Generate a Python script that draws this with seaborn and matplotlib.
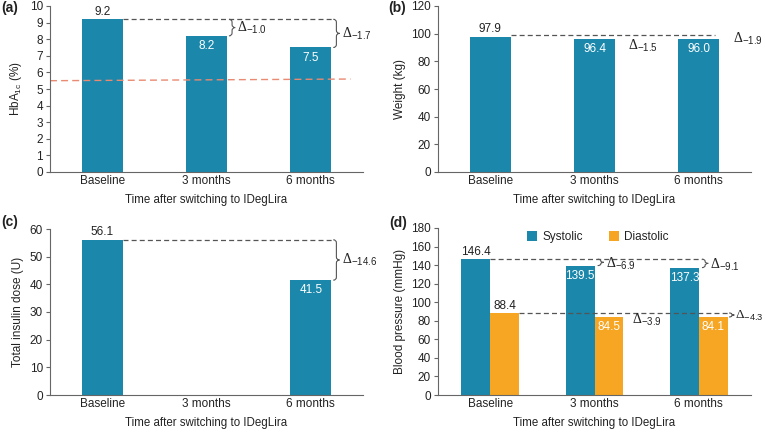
import numpy as np
import pandas as pd
import matplotlib
matplotlib.use('Agg')
import matplotlib.pyplot as plt
import seaborn as sns
from matplotlib.path import Path
from matplotlib.patches import PathPatch

# ---------------- data ----------------
categories = ['Baseline', '3 months', '6 months']
hba1c = [9.2, 8.2, 7.5]
hba1c_target = 5.55
weight = [97.9, 96.4, 96.0]
insulin = [56.1, np.nan, 41.5]
systolic = [146.4, 139.5, 137.3]
diastolic = [88.4, 84.5, 84.1]
series_names = ['Systolic', 'Diastolic']
xlabel_text = 'Time after switching to IDegLira'

BLUE = '#1a87ab'
ORANGE = '#f6a623'
DARK = '#222222'
GREY = '#555555'

sns.set_theme(style='ticks')
plt.rcParams['font.family'] = ['Liberation Sans', 'DejaVu Sans']
plt.rcParams['mathtext.fontset'] = 'custom'
plt.rcParams['mathtext.rm'] = 'Liberation Serif'
plt.rcParams['mathtext.sf'] = 'Liberation Sans'
plt.rcParams['mathtext.it'] = 'Liberation Sans:italic'

fig = plt.figure(figsize=(7.65, 4.32), dpi=100)
W, H = 765, 432


def add_ax(left, top, right, bottom):
    return fig.add_axes([left / W, 1 - bottom / H, (right - left) / W, (bottom - top) / H])


axA = add_ax(50, 6, 363, 172)
axB = add_ax(438, 6, 751, 172)
axC = add_ax(50, 229, 363, 395)
axD = add_ax(438, 228, 751, 395)


def style(ax, ymax, step, ylabel):
    ax.set_ylim(0, ymax)
    ax.set_yticks(np.arange(0, ymax + step / 2, step))
    ax.set_xlim(-0.5, 2.5)
    sns.despine(ax=ax)
    for s in ['left', 'bottom']:
        ax.spines[s].set_color('#666666')
        ax.spines[s].set_linewidth(0.8)
    ax.tick_params(axis='y', length=3, width=0.8, color='#666666', labelsize=8.5,
                   pad=2, labelcolor=DARK)
    ax.tick_params(axis='x', length=0, labelsize=8.5, pad=2.5, labelcolor=DARK)
    ax.set_xlabel(xlabel_text, fontsize=8.3, labelpad=4.5, color=DARK)
    ax.set_ylabel(ylabel, fontsize=8.5, labelpad=4, color=DARK)


def bar_at(container, i):
    """Return the bar of the container sitting in category slot i."""
    best = None
    for bar in container:
        c = bar.get_x() + bar.get_width() / 2
        if abs(c - i) < 0.5 and not np.isnan(bar.get_height()):
            best = bar
    return best


def label_bars(ax, container, fs=8.5):
    for bar in container:
        h = bar.get_height()
        if np.isnan(h) or h == 0:
            continue
        x = bar.get_x() + bar.get_width() / 2
        txt = f'{h:.1f}'
        if round(x) == 0:
            ax.annotate(txt, (x, h), xytext=(0, 1), textcoords='offset points',
                        ha='center', va='bottom', fontsize=fs, color=DARK)
        else:
            ax.annotate(txt, (x, h), xytext=(0, -3), textcoords='offset points',
                        ha='center', va='top', fontsize=fs, color='white')


def px_to_data_y(ax, px):
    inv = ax.transData.inverted()
    return inv.transform((0, px))[1] - inv.transform((0, 0))[1]


def brace(ax, x, ytop, ybot, w=0.06):
    r = min(px_to_data_y(ax, 3), (ytop - ybot) / 4)
    ym = (ytop + ybot) / 2
    xm = x + w / 2
    verts = [(x, ytop), (xm, ytop), (xm, ytop - r),
             (xm, ym + r),
             (xm, ym), (x + w, ym),
             (xm, ym), (xm, ym - r),
             (xm, ybot + r),
             (xm, ybot), (x, ybot)]
    codes = [Path.MOVETO, Path.CURVE3, Path.CURVE3,
             Path.LINETO,
             Path.CURVE3, Path.CURVE3,
             Path.CURVE3, Path.CURVE3,
             Path.LINETO,
             Path.CURVE3, Path.CURVE3]
    ax.add_patch(PathPatch(Path(verts, codes), fill=False, edgecolor=GREY, lw=0.8,
                           clip_on=False))


def dashed(ax, x0, x1, y):
    ax.plot([x0, x1], [y, y], color=GREY, lw=0.9, dashes=(4, 2.5), clip_on=False,
            zorder=3)


def delta(ax, x, y, d, fs=10):
    ax.text(x, y, f'$\\Delta_{{\\mathsf{{{d:.1f}}}}}$', ha='left', va='center',
            fontsize=fs, color=DARK, clip_on=False)


def right(bar):
    return bar.get_x() + bar.get_width()


# ---------------- (a) HbA1c ----------------
sns.barplot(x=categories, y=hba1c, order=categories, color=BLUE, width=0.39,
            saturation=1, linewidth=0, ax=axA, errorbar=None)
style(axA, 10, 1, 'HbA$_{\\mathsf{1c}}$ (%)')
bars = axA.containers[0]
label_bars(axA, bars)
axA.plot([-0.5, 2.38], [hba1c_target - 0.05, hba1c_target + 0.05], color='#e98a72',
         lw=1.0, dashes=(5, 3), zorder=1)
dashed(axA, right(bar_at(bars, 0)), right(bar_at(bars, 2)) + 0.02, hba1c[0])
for i in (1, 2):
    bx = right(bar_at(bars, i)) + 0.02
    brace(axA, bx, hba1c[0], hba1c[i])
    delta(axA, bx + 0.08, (hba1c[0] + hba1c[i]) / 2, hba1c[i] - hba1c[0])

# ---------------- (b) weight ----------------
sns.barplot(x=categories, y=weight, order=categories, color=BLUE, width=0.39,
            saturation=1, linewidth=0, ax=axB, errorbar=None)
style(axB, 120, 20, 'Weight (kg)')
bars = axB.containers[0]
label_bars(axB, bars)
dashed(axB, right(bar_at(bars, 0)), right(bar_at(bars, 2)) - 0.04, weight[0] + 0.8)
delta(axB, right(bar_at(bars, 1)) + 0.13, weight[1] - 5, weight[1] - weight[0])
delta(axB, right(bar_at(bars, 2)) + 0.13, weight[2] + 0.3, weight[2] - weight[0])

# ---------------- (c) insulin ----------------
sns.barplot(x=categories, y=insulin, order=categories, color=BLUE, width=0.39,
            saturation=1, linewidth=0, ax=axC, errorbar=None)
style(axC, 60, 10, 'Total insulin dose (U)')
bars = axC.containers[0]
label_bars(axC, bars)
dashed(axC, right(bar_at(bars, 0)), right(bar_at(bars, 2)) + 0.02, insulin[0])
bx = right(bar_at(bars, 2)) + 0.02
brace(axC, bx, insulin[0], insulin[2])
delta(axC, bx + 0.08, (insulin[0] + insulin[2]) / 2, insulin[2] - insulin[0])

# ---------------- (d) blood pressure ----------------
df = pd.DataFrame({
    'time': categories * 2,
    'value': systolic + diastolic,
    'type': [series_names[0]] * 3 + [series_names[1]] * 3,
})
sns.barplot(data=df, x='time', y='value', hue='type', order=categories,
            hue_order=series_names, palette=[BLUE, ORANGE], width=0.55,
            saturation=1, linewidth=0, ax=axD, errorbar=None)
style(axD, 180, 20, 'Blood pressure (mmHg)')
sysb, diab = axD.containers[0], axD.containers[1]
label_bars(axD, sysb)
label_bars(axD, diab)
dashed(axD, right(bar_at(sysb, 0)), right(bar_at(sysb, 2)) + 0.03, systolic[0])
for i in (1, 2):
    bx = right(bar_at(sysb, i)) + 0.03
    brace(axD, bx, systolic[0], systolic[i])
    delta(axD, bx + 0.08, (systolic[0] + systolic[i]) / 2 - 2, systolic[i] - systolic[0])
dashed(axD, right(bar_at(diab, 0)), right(bar_at(diab, 2)) + 0.015, diastolic[0])
delta(axD, right(bar_at(diab, 1)) + 0.08, diastolic[0] - 7, diastolic[1] - diastolic[0])
bx = right(bar_at(diab, 2)) + 0.015
brace(axD, bx, diastolic[0], diastolic[2], w=0.05)
delta(axD, bx + 0.06, (diastolic[0] + diastolic[2]) / 2 - 1, diastolic[2] - diastolic[0],
      fs=9.5)
leg = axD.legend(loc='center', bbox_to_anchor=(0.51, 0.946), ncol=2, frameon=False,
                 fontsize=8.5, handlelength=0.9, handleheight=0.9, handletextpad=0.4,
                 columnspacing=2.2, borderaxespad=0)
for t in leg.get_texts():
    t.set_color(DARK)

# ---------------- panel letters ----------------
for lab, x, y in [('(a)', 1, 8), ('(b)', 388, 8), ('(c)', 1, 222), ('(d)', 389, 223)]:
    fig.text(x / W, 1 - y / H, lab, fontsize=10, fontweight='bold', ha='left',
             va='center', color=DARK)

fig.savefig('out.png', dpi=100)
